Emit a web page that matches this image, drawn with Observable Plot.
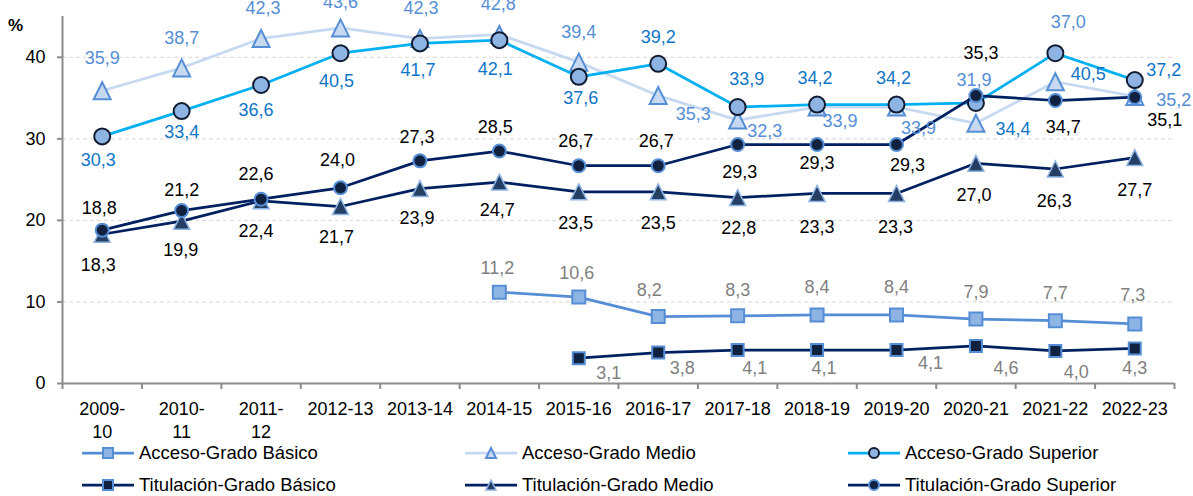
<!DOCTYPE html>
<html><head><meta charset="utf-8">
<script src="https://cdn.jsdelivr.net/npm/d3@7"></script>
<script src="https://cdn.jsdelivr.net/npm/@observablehq/plot@0.6"></script>
<style>
body{margin:0;background:#fff;font-family:"Liberation Sans",Arial,sans-serif;}
#wrap{position:relative;width:1193px;height:496px;overflow:hidden;}
.leg{position:absolute;display:flex;align-items:center;height:22px;font-size:18.5px;color:#000;white-space:nowrap;}
.leg svg{margin-right:5px;}
</style></head><body><div id="wrap"></div>
<script>
// ---- data ----
const years = ["2009-10","2010-11","2011-12","2012-13","2013-14","2014-15","2015-16","2016-17","2017-18","2018-19","2019-20","2020-21","2021-22","2022-23"];
const yearLabels = ["2009-\n10","2010-\n11","2011-\n12","2012-13","2013-14","2014-15","2015-16","2016-17","2017-18","2018-19","2019-20","2020-21","2021-22","2022-23"];
const accesoBasico      = [null,null,null,null,null,11.2,10.6,8.2,8.3,8.4,8.4,7.9,7.7,7.3];
const accesoMedio       = [35.9,38.7,42.3,43.6,42.3,42.8,39.4,35.3,32.3,33.9,33.9,31.9,37.0,35.2];
const accesoSuperior    = [30.3,33.4,36.6,40.5,41.7,42.1,37.6,39.2,33.9,34.2,34.2,34.4,40.5,37.2];
const titulacionBasico  = [null,null,null,null,null,null,3.1,3.8,4.1,4.1,4.1,4.6,4.0,4.3];
const titulacionMedio   = [18.3,19.9,22.4,21.7,23.9,24.7,23.5,23.5,22.8,23.3,23.3,27.0,26.3,27.7];
const titulacionSuperior= [18.8,21.2,22.6,24.0,27.3,28.5,26.7,26.7,29.3,29.3,29.3,35.3,34.7,35.1];
const seriesNames = ["Acceso-Grado Básico","Acceso-Grado Medio","Acceso-Grado Superior","Titulación-Grado Básico","Titulación-Grado Medio","Titulación-Grado Superior"];
const yTicks = [0,10,20,30,40];
const yGrid = [10,20,30,40];

// ---- label nudges (layout only) ----
const nudgeAccBas = [null,null,null,null,null,[-2,-24],[-2,-24],[-9,-26],[0,-26],[0,-28],[0,-28],[0,-27],[0,-27],[-2,-29]];
const nudgeAccMed = [[0,-32],[0,-30],[2,-30],[0,-26],[1,-30],[-1,-30],[0,-30],[35,19],[27,11],[23,14],[22,21],[-2,-43],[13,-60],[39,4]];
const nudgeAccSup = [[-4,24],[0,21],[-5,25],[-4,28],[-2,27],[-4,29],[2,21],[0,-27],[9,-28],[-2,-26],[-3,-26],[37,26],[33,21],[29,-10]];
const nudgeTitBas = [null,null,null,null,null,null,[30,15],[24,16],[17,18],[7,18],[34,13],[30,22],[21,21],[0,20]];
const nudgeTitMed = [[-4,31],[-1,29],[-5,30],[-4,31],[-3,30],[-2,28],[-3,31],[0,31],[1,31],[0,34],[-1,34],[-2,32],[-1,32],[0,33]];
const nudgeTitSup = [[-3,-22],[0,-20],[-5,-25],[-3,-28],[-3,-24],[-4,-24],[-3,-25],[-2,-25],[2,28],[0,19],[11,21],[5,-42],[8,27],[30,23]];

// custom symbols: r = half box size
const sq = {draw(ctx, size){ const h = Math.sqrt(size/Math.PI); ctx.moveTo(-h,-h); ctx.lineTo(h,-h); ctx.lineTo(h,h); ctx.lineTo(-h,h); ctx.closePath(); }};
const tri = {draw(ctx, size){ const h = Math.sqrt(size/Math.PI); ctx.moveTo(0,-h); ctx.lineTo(h,h); ctx.lineTo(-h,h); ctx.closePath(); }};

const series = [
  {name: seriesNames[0], values: accesoBasico, line:"#558ed5", sym: sq, r:6.5, fill:"#8eb4e3", stroke:"#558ed5", sw:2, label:"#808080", nudge: nudgeAccBas},
  {name: seriesNames[1], values: accesoMedio, line:"#c6d9f1", sym: tri, r:8.5, fill:"#c6d9f1", stroke:"#558ed5", sw:2, label:"#558ed5", nudge: nudgeAccMed},
  {name: seriesNames[2], values: accesoSuperior, line:"#00b0f0", sym: "circle", r:8, fill:"#8eb4e3", stroke:"#111c33", sw:2, label:"#1075c7", nudge: nudgeAccSup},
  {name: seriesNames[3], values: titulacionBasico, line:"#002060", sym: sq, r:6, fill:"#10223f", stroke:"#558ed5", sw:2, label:"#808080", nudge: nudgeTitBas},
  {name: seriesNames[4], values: titulacionMedio, line:"#002060", sym: tri, r:8, fill:"#243f63", stroke:"#8eb4e3", sw:1.5, label:"#000000", nudge: nudgeTitMed},
  {name: seriesNames[5], values: titulacionSuperior, line:"#002060", sym: "circle", r:6.5, fill:"#10223f", stroke:"#558ed5", sw:2, label:"#000000", nudge: nudgeTitSup}
];

const fmt = v => v.toFixed(1).replace(".", ",");
const rows = s => s.values.map((v,i)=>({i, pos: i + 0.5, v})).filter(d => d.v != null);

const marks = [
  Plot.ruleY(yGrid, {y: d => d, stroke:"#d6d6d6", strokeWidth:1, strokeDasharray:"4,3"}),
  Plot.axisY({ticks: yTicks, tickSize:5, tickPadding:12, fontSize:18, stroke:"#8c8c8c", strokeWidth:2, label:null}),
  Plot.axisX({ticks: d3.range(years.length + 1), tickFormat: () => "", tickSize:6, stroke:"#8c8c8c", strokeWidth:2, label:null}),
  Plot.ruleX([0], {stroke:"#8c8c8c", strokeWidth:2}),
  Plot.ruleY([0], {stroke:"#8c8c8c", strokeWidth:2}),
  Plot.text(yearLabels, {x: (d,i) => i + 0.5, frameAnchor:"bottom", lineAnchor:"top", dy:16, fontSize:18, lineHeight:1.25, fill:"#000"}),
  Plot.text(["%"], {frameAnchor:"top-left", textAnchor:"middle", lineAnchor:"middle", dx:-47, dy:9, fontSize:17, fontWeight:"bold", fill:"#000"})
];

for (const s of series) {
  const d = rows(s);
  marks.push(Plot.line(d, {x:"pos", y:"v", stroke:s.line, strokeWidth:2.75}));
  marks.push(Plot.dot(d, {x:"pos", y:"v", symbol:s.sym, r:s.r, fill:s.fill, stroke:s.stroke, strokeWidth:s.sw}));
}
for (const s of series) {
  for (const d of rows(s)) {
    const [dx, dy] = s.nudge[d.i];
    marks.push(Plot.text([d], {x:"pos", y:"v", text: r => fmt(r.v), dx, dy, fontSize:18, fill:s.label}));
  }
}

const chart = Plot.plot({
  width: 1193, height: 440,
  marginLeft: 62, marginRight: 19, marginTop: 16, marginBottom: 57,
  x: {type:"linear", domain:[0, years.length]},
  y: {domain:[0,45]},
  style: {fontFamily:'"Liberation Sans", Arial, sans-serif', fontSize:"18px", color:"#000", background:"#fff", overflow:"visible"},
  marks
});
const wrap = document.getElementById("wrap");
wrap.appendChild(chart);

// ---- legend ----
const cols = [82, 465, 848];
const rowsY = [453, 485];
series.forEach((s, k) => {
  const div = document.createElement("div");
  div.className = "leg";
  div.style.left = cols[k % 3] + "px";
  div.style.top = (rowsY[Math.floor(k / 3)] - 11) + "px";
  const NS = "http://www.w3.org/2000/svg";
  const svg = document.createElementNS(NS, "svg");
  svg.setAttribute("width", 52); svg.setAttribute("height", 22);
  const ln = document.createElementNS(NS, "line");
  ln.setAttribute("x1", 0); ln.setAttribute("x2", 52); ln.setAttribute("y1", 11); ln.setAttribute("y2", 11);
  ln.setAttribute("stroke", s.line); ln.setAttribute("stroke-width", 2.75);
  svg.appendChild(ln);
  const p = document.createElementNS(NS, "path");
  const h = 5;
  let dpath;
  if (s.sym === sq) dpath = `M${26-h},${11-h}H${26+h}V${11+h}H${26-h}Z`;
  else if (s.sym === tri) dpath = `M26,${11-h}L${26+h},${11+h}L${26-h},${11+h}Z`;
  else dpath = `M${26+h},11A${h},${h} 0 1,1 ${26-h},11A${h},${h} 0 1,1 ${26+h},11Z`;
  p.setAttribute("d", dpath);
  p.setAttribute("fill", s.fill); p.setAttribute("stroke", s.stroke); p.setAttribute("stroke-width", s.sw);
  svg.appendChild(p);
  div.appendChild(svg);
  const t = document.createElement("span");
  t.textContent = s.name;
  div.appendChild(t);
  wrap.appendChild(div);
});
</script>
</body></html>
